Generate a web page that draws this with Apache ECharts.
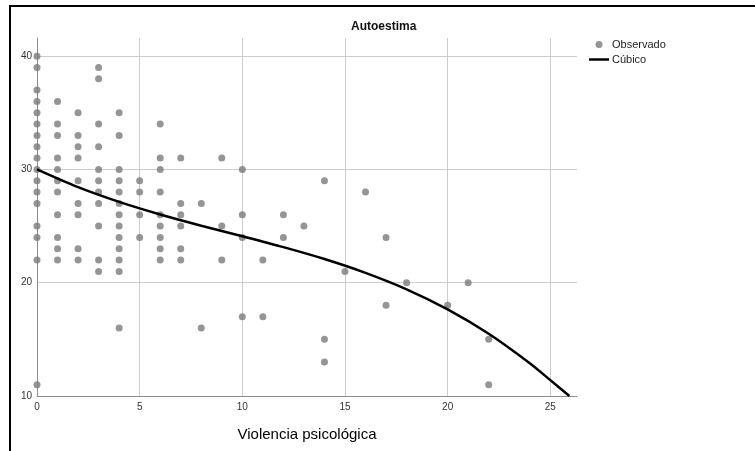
<!DOCTYPE html>
<html>
<head>
<meta charset="utf-8">
<script src="https://cdn.jsdelivr.net/npm/echarts@6/dist/echarts.min.js"></script>
<style>
html,body{margin:0;padding:0;background:#fff;}
#c{width:755px;height:451px;}
</style>
</head>
<body>
<div id="c"></div>
<script>
// Observed points: violencia psicológica (x) and autoestima (y)
const obsX = [
  0,0,0,0,0,0,0,0,0,0,0,0,0,0,0,0,0,
  1,1,1,1,1,1,1,1,1,1,1,
  2,2,2,2,2,2,2,2,2,
  3,3,3,3,3,3,3,3,3,3,3,
  4,4,4,4,4,4,4,4,4,4,4,4,4,
  5,5,5,5,
  6,6,6,6,6,6,6,6,6,
  7,7,7,7,7,7,
  8,8,
  9,9,9,
  10,10,10,10,
  11,11,
  12,12,
  13,
  14,14,14,
  15,
  16,
  17,17,
  18,
  20,
  21,
  22,22
];
const obsY = [
  40,39,37,36,35,34,33,32,31,30,29,28,27,25,24,22,11,
  36,34,33,31,30,29,28,26,24,23,22,
  35,33,32,31,29,27,26,23,22,
  39,38,34,32,30,29,28,27,25,22,21,
  35,33,30,29,28,27,26,25,24,23,22,21,16,
  29,28,26,24,
  34,31,30,28,26,25,24,23,22,
  31,27,26,25,23,22,
  27,16,
  31,25,22,
  30,26,24,17,
  22,17,
  26,24,
  25,
  29,15,13,
  21,
  28,
  24,18,
  20,
  18,
  20,
  15,11
];
// Cubic fit curve
const curveX = [0, 2, 4, 6, 8, 10, 12, 14, 16, 18, 20, 22, 24, 25, 25.93];
const curveY = [30, 28.43, 27.13, 26.02, 25.03, 24.1, 23.14, 22.09, 20.87, 19.42, 17.65, 15.5, 12.9, 11.4, 10];

const xTicks = { min: 0, max: 26.3, step: 5 };
const yTicks = { min: 10, max: 41.6, step: 10 };

const titleText = 'Autoestima';
const xName = 'Violencia psicológica';
const seriesNames = ['Observado', 'Cúbico'];

const chart = echarts.init(document.getElementById('c'), null, { renderer: 'canvas' });
const FONT = '"Liberation Sans", Arial, sans-serif';

chart.setOption({
  animation: false,
  backgroundColor: '#fff',
  textStyle: { fontFamily: FONT },
  title: {
    text: titleText,
    left: 351, top: 21, padding: 0,
    textStyle: { fontFamily: FONT, fontSize: 12, fontWeight: 'bold', color: '#111' }
  },
  graphic: [{
    type: 'rect', z: 100, silent: true,
    shape: { x: 10, y: 6, width: 1000, height: 1000 },
    style: { fill: 'none', stroke: '#000', lineWidth: 2 }
  }],
  legend: {
    orient: 'vertical',
    left: 589, top: 39,
    itemWidth: 20, itemHeight: 7, itemGap: 4,
    padding: 0,
    textStyle: { fontFamily: FONT, fontSize: 11, color: '#222', padding: [0, 0, 0, -2] },
    data: [
      { name: seriesNames[0], icon: 'circle' },
      { name: seriesNames[1], icon: 'path://M0,0H40V5H0Z' }
    ]
  },
  grid: { left: 37, right: 178, top: 38, bottom: 55, containLabel: false },
  xAxis: {
    type: 'value',
    min: xTicks.min, max: xTicks.max, interval: xTicks.step,
    name: xName, nameLocation: 'middle', nameGap: 31,
    nameTextStyle: { fontFamily: FONT, fontSize: 15, color: '#000' },
    axisLine: { show: true, lineStyle: { color: '#8c8c8c', width: 1 } },
    axisTick: { show: false },
    axisLabel: { fontFamily: FONT, fontSize: 10, color: '#333', margin: 6, showMaxLabel: false },
    splitLine: { show: true, showMaxLine: false, lineStyle: { color: '#cccccc', width: 1 } }
  },
  yAxis: {
    type: 'value',
    min: yTicks.min, max: yTicks.max, interval: yTicks.step,
    axisLine: { show: true, lineStyle: { color: '#8c8c8c', width: 1 } },
    axisTick: { show: false },
    axisLabel: { fontFamily: FONT, fontSize: 10, color: '#333', margin: 5, showMaxLabel: false },
    splitLine: { show: true, showMaxLine: false, lineStyle: { color: '#cccccc', width: 1 } }
  },
  series: [
    {
      name: seriesNames[0],
      type: 'scatter',
      symbol: 'circle',
      symbolSize: 7,
      itemStyle: { color: '#7a7a7a' },
      data: obsX.map((x, i) => [x, obsY[i]]),
      z: 3
    },
    {
      name: seriesNames[1],
      type: 'line',
      symbol: 'none',
      smooth: 0.3,
      lineStyle: { color: '#000', width: 2.5 },
      itemStyle: { color: '#000' },
      data: curveX.map((x, i) => [x, curveY[i]]),
      z: 4
    }
  ]
});
</script>
</body>
</html>
